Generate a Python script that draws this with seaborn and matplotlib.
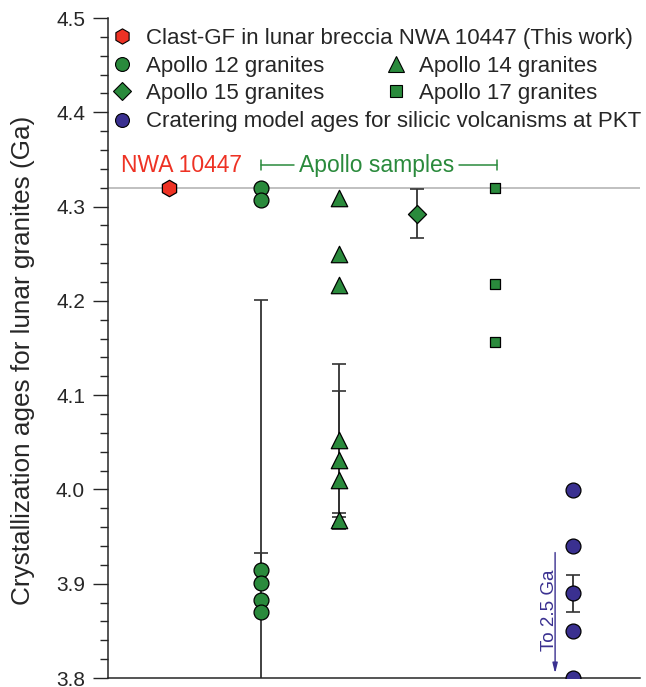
"""Crystallization ages for lunar granites: NWA 10447 clast vs Apollo samples."""

import matplotlib

matplotlib.use("Agg")
import matplotlib.pyplot as plt
from matplotlib.lines import Line2D
from matplotlib.ticker import FormatStrFormatter, MultipleLocator
import pandas as pd
import seaborn as sns

# x slot for each sample group (NWA sits a little further out on its own)
GROUP_POS = {
    "NWA 10447": 0.81,
    "Apollo 12": 2,
    "Apollo 14": 3,
    "Apollo 15": 4,
    "Apollo 17": 5,
    "PKT": 6,
}

NWA_AGES = [4.320]
APOLLO12_AGES = [4.320, 4.307, 3.915, 3.901, 3.883, 3.870]
APOLLO14_AGES = [4.309, 4.250, 4.217, 4.052, 4.031, 4.010, 3.968]
APOLLO15_AGES = [4.292]
APOLLO17_AGES = [4.320, 4.218, 4.156]
PKT_AGES = [3.999, 3.940, 3.890, 3.850, 3.800]

# error bars: (group, age, lower err, upper err)
ERRORBARS = [
    ("Apollo 12", 3.901, 0.300, 0.300),
    ("Apollo 12", 3.915, 0.014, 0.018),
    ("Apollo 14", 4.052, 0.081, 0.081),
    ("Apollo 14", 4.031, 0.073, 0.073),
    ("Apollo 14", 3.968, 0.007, 0.007),
    ("Apollo 15", 4.292, 0.025, 0.027),
    ("PKT", 3.890, 0.020, 0.019),
]

NWA_AGE_LINE = 4.32

RED = "#ee3224"
GREEN = "#2a8a3c"
BLUE = "#3a3090"

STYLES = {
    "NWA 10447": dict(marker="h", color=RED, s=140),
    "Apollo 12": dict(marker="o", color=GREEN, s=115),
    "Apollo 14": dict(marker="^", color=GREEN, s=140),
    "Apollo 15": dict(marker="D", color=GREEN, s=85),
    "Apollo 17": dict(marker="s", color=GREEN, s=62),
    "PKT": dict(marker="o", color=BLUE, s=115),
}

LABELS = {
    "NWA 10447": "Clast-GF in lunar breccia NWA 10447 (This work)",
    "Apollo 12": "Apollo 12 granites",
    "Apollo 14": "Apollo 14 granites",
    "Apollo 15": "Apollo 15 granites",
    "Apollo 17": "Apollo 17 granites",
    "PKT": "Cratering model ages for silicic volcanisms at PKT",
}

sns.set_style("ticks")
plt.rcParams["font.family"] = ["Liberation Sans", "DejaVu Sans"]

ages = {
    "NWA 10447": NWA_AGES,
    "Apollo 12": APOLLO12_AGES,
    "Apollo 14": APOLLO14_AGES,
    "Apollo 15": APOLLO15_AGES,
    "Apollo 17": APOLLO17_AGES,
    "PKT": PKT_AGES,
}
df = pd.DataFrame(
    [(g, GROUP_POS[g], a) for g, vals in ages.items() for a in vals],
    columns=["group", "x", "age"],
)

fig = plt.figure(figsize=(6.46, 6.87), dpi=100)
ax = fig.add_axes([108 / 646, 9 / 687, 532 / 646, 660 / 687])

ax.axhline(NWA_AGE_LINE, color="#b5b5b5", lw=1.2, zorder=1)

for g, age, lo, hi in ERRORBARS:
    ax.errorbar(
        GROUP_POS[g], age, yerr=[[lo], [hi]], fmt="none",
        ecolor="#333333", elinewidth=1.3, capsize=5, capthick=1.2, zorder=2,
    )

for g, style in STYLES.items():
    sub = df[df["group"] == g]
    sns.scatterplot(
        data=sub, x="x", y="age", ax=ax, marker=style["marker"],
        color=style["color"], s=style["s"], edgecolor="black",
        linewidth=0.9, zorder=3, legend=False,
    )

ax.set_xlim(0.03, 6.86)
ax.set_ylim(3.8, 4.5)
ax.yaxis.set_major_locator(MultipleLocator(0.1))
ax.yaxis.set_minor_locator(MultipleLocator(0.02))
ax.yaxis.set_major_formatter(FormatStrFormatter("%.1f"))
ax.set_xticks([])
ax.set_xlabel("")
ax.set_ylabel("Crystallization ages for lunar granites (Ga)", fontsize=18.8)
ax.yaxis.set_label_coords(-0.137, 0.482)
ax.tick_params(axis="y", which="major", length=10.5, width=1, labelsize=15, pad=6)
ax.tick_params(axis="y", which="minor", length=5.5, width=1)
sns.despine(ax=ax, top=True, right=True)
ax.spines["left"].set_linewidth(1.1)
ax.spines["bottom"].set_linewidth(1.1)


def handle(g):
    st = STYLES[g]
    ms = {"h": 11, "o": 10, "^": 11, "D": 9, "s": 8}[st["marker"]]
    return Line2D([], [], ls="none", marker=st["marker"], color=st["color"],
                  markeredgecolor="black", markeredgewidth=0.8, markersize=ms)


leg_kw = dict(frameon=False, fontsize=16, handletextpad=0.45, borderaxespad=0,
              handlelength=1.2, labelspacing=0.28, columnspacing=2.65)
leg1 = ax.legend([handle("NWA 10447")], [LABELS["NWA 10447"]],
                 loc="upper left", bbox_to_anchor=(-0.015, 0.998), **leg_kw)
ax.add_artist(leg1)
mid = ["Apollo 12", "Apollo 15", "Apollo 14", "Apollo 17"]
leg2 = ax.legend([handle(g) for g in mid], [LABELS[g] for g in mid], ncol=2,
                 loc="upper left", bbox_to_anchor=(-0.015, 0.956), **leg_kw)
ax.add_artist(leg2)
ax.legend([handle("PKT")], [LABELS["PKT"]],
          loc="upper left", bbox_to_anchor=(-0.015, 0.872), **leg_kw)

# group annotations above the 4.32 Ga line
ax.text(0.97, 4.344, "NWA 10447", color=RED, fontsize=16.5, ha="center", va="center")
ax.text(3.48, 4.344, "Apollo samples", color=GREEN, fontsize=16.5, ha="center", va="center")
for x0, x1 in [(2.0, 2.42), (4.53, 5.02)]:
    ax.plot([x0, x1], [4.344, 4.344], color=GREEN, lw=1.1)
for xc in (2.0, 5.02):
    ax.plot([xc, xc], [4.339, 4.349], color=GREEN, lw=1.1)

ax.text(5.70, 3.872, "To 2.5 Ga", color=BLUE, fontsize=13.5, rotation=90,
        ha="center", va="center")
ax.annotate("", xy=(5.77, 3.802), xytext=(5.77, 3.936),
            arrowprops=dict(arrowstyle="-|>,head_width=0.15,head_length=0.6",
                            color=BLUE, lw=1.0))

fig.savefig("out.png", dpi=100)
